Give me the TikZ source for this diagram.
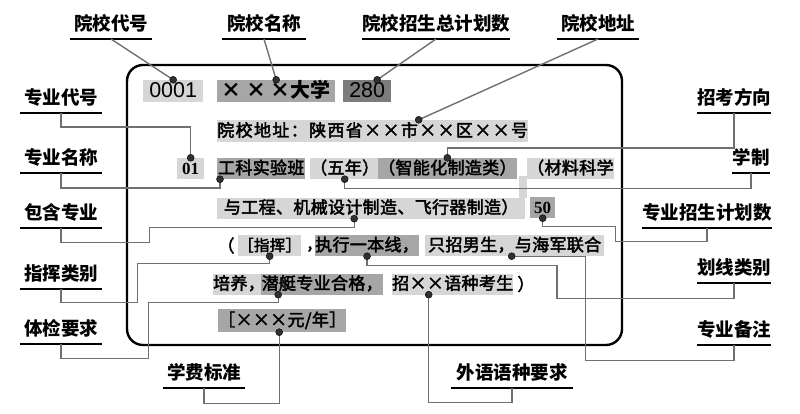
\documentclass[tikz,border=0pt]{standalone}
\usepackage{fontspec}
\usepackage{tikz}
\newfontfamily\cjk{Noto Sans CJK SC}
\newfontfamily\cjkbox[LetterSpace=2, FakeBold=2.5]{Noto Sans CJK SC}
\newfontfamily\cjkwide[LetterSpace=8, FakeBold=2.5]{Noto Sans CJK SC}
\newfontfamily\numsans{Liberation Sans}
\newfontfamily\numserif{Liberation Serif}
\definecolor{boxlight}{RGB}{214, 214, 214}
\definecolor{boxmid}{RGB}{166, 166, 166}
\definecolor{boxdark}{RGB}{124, 124, 124}
\definecolor{wire}{RGB}{112, 112, 112}
\definecolor{pin}{RGB}{48, 48, 48}
\tikzset{
  lbl/.style={anchor=south, inner xsep=0pt, inner ysep=6pt, text height=16pt, text depth=2pt,
              font=\cjk\bfseries\fontsize{18.5}{20}\selectfont},
  uline/.style={black, line width=1.8pt},
  field/.style={anchor=west, inner sep=0pt, minimum height=21pt, text height=13pt, text depth=2pt,
                font=\cjkbox\fontsize{17}{19}\selectfont},
  plain/.style={inner sep=0pt, font=\cjkbox\fontsize{17}{19}\selectfont},
  wireline/.style={wire, line width=1.4pt},
  pindot/.style={pin, fill=pin}
}
\begin{document}
\begin{tikzpicture}[x=1pt, y=-1pt]
            \useasboundingbox (0,0) rectangle (800,413);
            % Card frame
            \draw[black, line width=2.4pt, rounded corners=16pt] (127,65) rectangle (622,345);
            % Row 1
            \node[field, fill=boxlight, minimum width=60,  minimum height=22, font=\numsans\fontsize{21.5}{23}\selectfont, text height=15pt] (code) at (143, 91) {0001};
            \node[field, fill=boxmid,   minimum width=118, minimum height=22, font=\cjk\bfseries\fontsize{20}{22}\selectfont, text height=15pt] (name) at (217, 91) {× × ×大学};
            \node[field, fill=boxdark,  minimum width=48,  minimum height=22, font=\numsans\fontsize{21.5}{23}\selectfont, text height=15pt] (plan) at (343, 91) {280};
            % Row 2
            \node[field, fill=boxlight, minimum width=311, minimum height=22, font=\cjkwide\fontsize{17}{19}\selectfont] (addr) at (217,131) {院校地址：陕西省××市××区××号};
            % Row 3
            \node[field, fill=boxlight, minimum width=27,  font=\numserif\bfseries\fontsize{17}{19}\selectfont] (mcode) at (177,168.5) {01};
            \node[field, fill=boxmid,   minimum width=88]  (mname) at (217,168.5) {工科实验班};
            \node[field, fill=boxlight, minimum width=58]  (len)   at (310,168.5) {（五年）};
            \node[field, fill=boxmid,   minimum width=133] (dir)   at (378,168.5) {（智能化制造类）};
            \node[field, fill=boxlight, minimum width=77]  (mat)   at (527,168.5) {（材料科学};
            \fill[boxlight] (519,176) rectangle (527,198);
            % Row 4
            \node[field, fill=boxlight, minimum width=308] (incl)  at (217,208) {与工程、机械设计制造、飞行器制造）};
            \node[field, fill=boxmid,   minimum width=25,  font=\numserif\bfseries\fontsize{17}{19}\selectfont] (mplan) at (530,207.5) {50};
            % Row 5
            \node[plain] (opn) at (226,245.5) {（};
            \node[field, fill=boxlight, minimum width=60, font=\cjkbox\fontsize{15.5}{18}\selectfont] (cmd) at (238,245.5) {［指挥］};
            \node[plain] (cma) at (310,249) {,};
            \node[field, fill=boxmid,   minimum width=102] (line)  at (315,245.5) {执行一本线，};
            \node[field, fill=boxlight, minimum width=179] (male)  at (425,245.5) {只招男生，与海军联合};
            % Row 6
            \node[field, fill=boxlight, minimum width=47]  (train) at (213,284) {培养，};
            \node[field, fill=boxmid,   minimum width=122] (sub)   at (261,284) {潜艇专业合格，};
            \node[field, fill=boxlight, minimum width=121] (lang)  at (392,284) {招××语种考生};
            \node[plain] (cls) at (526,284) {）};
            % Row 7
            \node[field, fill=boxmid,   minimum width=124, minimum height=23] (fee) at (218,320.5) {［×××元/年］};
            % Labels, top
            \node[lbl, minimum width=82]  (lcode)  at (111,39) {院校代号};
            \node[lbl, minimum width=83]  (lname)  at (264,39) {院校名称};
            \node[lbl, minimum width=148] (lplan)  at (436,39) {院校招生总计划数};
            \node[lbl, minimum width=82]  (laddr)  at (598,39) {院校地址};
            % Labels, left
            \node[lbl, minimum width=82]  (lmcode) at (61,113) {专业代号};
            \node[lbl, minimum width=82]  (lmname) at (61,173) {专业名称};
            \node[lbl, minimum width=82]  (lincl)  at (61,228) {包含专业};
            \node[lbl, minimum width=82]  (lcmd)   at (61,289) {指挥类别};
            \node[lbl, minimum width=82]  (lphys)  at (61,344) {体检要求};
            % Labels, bottom
            \node[lbl, minimum width=82]  (lfee)   at (204,388) {学费标准};
            \node[lbl, minimum width=121] (llang)  at (512,388) {外语语种要求};
            % Labels, right
            \node[lbl, minimum width=72]  (ldir)   at (734,113) {招考方向};
            \node[lbl, minimum width=38]  (llen)   at (751,173) {学制};
            \node[lbl, minimum width=126] (lmplan) at (707,228) {专业招生计划数};
            \node[lbl, minimum width=72]  (lcut)   at (734,283) {划线类别};
            \node[lbl, minimum width=72]  (lnote)  at (734,345) {专业备注};
            % Underlines
            \draw[uline] (lcode.south west)  -- (lcode.south east)  (lname.south west)  -- (lname.south east)
                         (lplan.south west)  -- (lplan.south east)  (laddr.south west)  -- (laddr.south east)
                         (lmcode.south west) -- (lmcode.south east) (lmname.south west) -- (lmname.south east)
                         (lincl.south west)  -- (lincl.south east)  (lcmd.south west)   -- (lcmd.south east)
                         (lphys.south west)  -- (lphys.south east)  (lfee.south west)   -- (lfee.south east)
                         (llang.south west)  -- (llang.south east)  (ldir.south west)   -- (ldir.south east)
                         (llen.south west)   -- (llen.south east)   (lmplan.south west) -- (lmplan.south east)
                         (lcut.south west)   -- (lcut.south east)   (lnote.south west)  -- (lnote.south east);
            % Pin points
            \coordinate (dcode)  at (code.north);
            \coordinate (dname)  at (name.north);
            \path (plan.north) ++(10,0) coordinate (dplan);
            \path (addr.north) ++(46,0) coordinate (daddr);
            \coordinate (dmcode) at (mcode.north);
            \path (mname.south west) ++(3,0) coordinate (dmname);
            \coordinate (dlen)   at (len.south);
            \coordinate (ddir)   at (dir.north);
            \path (incl.south) ++(-17,0) coordinate (dincl);
            \coordinate (dmplan) at (mplan.south);
            \coordinate (dcmd)   at (cmd.south);
            \coordinate (dline)  at (line.south);
            \path (male.south) ++(-3,0) coordinate (dmale);
            \path (sub.south) ++(-44,0) coordinate (dsub);
            \path (lang.south) ++(-24,0) coordinate (dlang);
            \path (fee.south) ++(-3,0) coordinate (dfee);
            % Connectors
            \draw[wireline] (lcode.south) -- (dcode);
            \draw[wireline] (lname.south) -- (dname);
            \draw[wireline] (lplan.south) -- (dplan);
            \draw[wireline] (laddr.south) -- (daddr);
            \draw[wireline] (lmcode.south) -- ++(0,14) -| (dmcode);
            \draw[wireline] (lmname.south) -- ++(0,15) -| (dmname);
            \draw[wireline] (dlen) -- ++(0,9) -| (llen.south);
            \draw[wireline] (ldir.south) -- ++(0,35) -| (ddir);
            \draw[wireline] (dincl) -- ++(0,9) -| ++(-205,15) -| (lincl.south);
            \draw[wireline] (dcmd) -- ++(0,7) -| ++(-132,39) -| (lcmd.south);
            \draw[wireline] (dsub) -- ++(0,8) -| ++(-130,56) -| (lphys.south);
            \draw[wireline] (dfee) -- ++(0,71) -| (lfee.south);
            \draw[wireline] (dlang) -- ++(0,108) -| (llang.south);
            \draw[wireline] (dmplan) -- ++(0,8) -| ++(73,15) -| (lmplan.south);
            \draw[wireline] (dline) -- ++(0,9) -| ++(190,33) -| (lcut.south);
            \draw[wireline] (dmale) -- ++(74,0) -- ++(0,104) -| (lnote.south);
            % Dots
            \foreach \p in {dcode,dname,dplan,daddr,dmcode,dmname,dlen,ddir,dincl,dmplan,dcmd,dline,dmale,dsub,dlang,dfee}
              \filldraw[pindot] (\p) circle (3.5pt);
\end{tikzpicture}
\end{document}
